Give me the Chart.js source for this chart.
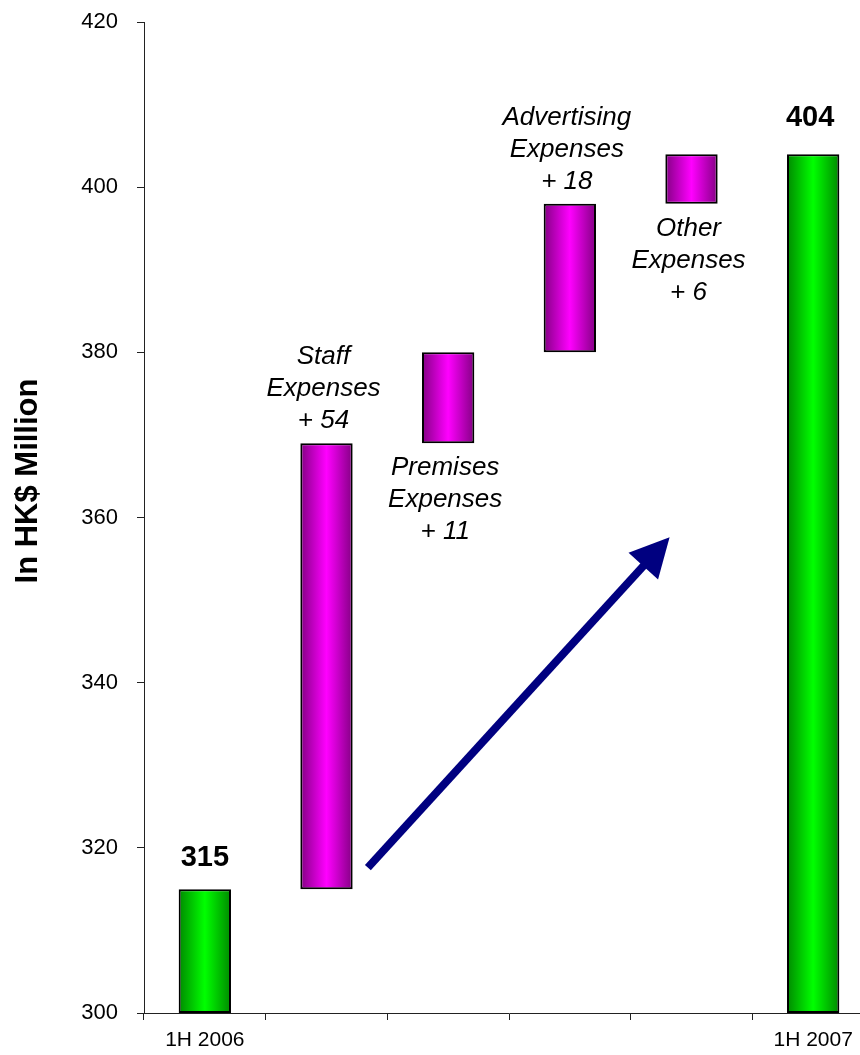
<!DOCTYPE html>
<html>
<head>
<meta charset="utf-8">
<script src="https://cdn.jsdelivr.net/npm/chart.js@4.4.1/dist/chart.umd.min.js"></script>
<style>
  html, body { margin: 0; padding: 0; background: #fff; overflow: hidden; width: 860px; height: 1055px; }
  #wrap { position: absolute; left: 0; top: 0; width: 875px; height: 1055px; }
</style>
</head>
<body>
<div id="wrap"><canvas id="c" width="875" height="1055"></canvas></div>
<script>
// Operating expenses bridge, 1H 2006 -> 1H 2007 (HK$ million)
const categories = ['1H 2006', '', '', '', '', '1H 2007'];
const openingTotal = 315;
const closingTotal = 404;
const expenseNames = [['Staff', 'Expenses'], ['Premises', 'Expenses'], ['Advertising', 'Expenses'], ['Other', 'Expenses']];
const expenseIncrements = [54, 11, 18, 6];
const expenseLabelSides = ['above', 'below', 'above', 'below'];
const yMin = 300, yMax = 420, yStep = 20;
const yTitle = 'In HK$ Million';
// growth arrow, in [category index, HK$ million]
const arrowFrom = [1.34, 317.6];
const arrowTo = [3.82, 357.6];

const FONT = '"Liberation Sans", Arial, Helvetica, sans-serif';
const BAR_PCT = 0.43;

// floating ranges: totals sit on the axis floor, expenses stack on a running sum
const ranges = [];
ranges.push([yMin, openingTotal]);
let running = openingTotal;
expenseIncrements.forEach(v => { ranges.push([running, running + v]); running += v; });
ranges.push([yMin, closingTotal]);

function barFill(ctx) {
  const isTotal = ctx.dataIndex === 0 || ctx.dataIndex === categories.length - 1;
  const dark = isTotal ? '#008a00' : '#840084';
  const light = isTotal ? '#00ff00' : '#ff00ff';
  const chart = ctx.chart;
  const xs = chart.scales && chart.scales.x;
  if (!xs || !chart.chartArea || !isFinite(xs.width) || xs.width <= 0) return light;
  const cx = xs.getPixelForValue(ctx.dataIndex);
  const half = xs.width / categories.length * BAR_PCT / 2;
  const g = chart.ctx.createLinearGradient(cx - half, 0, cx + half, 0);
  g.addColorStop(0, dark);
  g.addColorStop(0.5, light);
  g.addColorStop(1, dark);
  return g;
}

const annotations = {
  id: 'annotations',
  afterDatasetsDraw(chart) {
    const { ctx, scales: { x, y } } = chart;
    const bars = chart.getDatasetMeta(0).data;
    ctx.save();
    ctx.fillStyle = '#000';
    ctx.textAlign = 'center';
    ctx.textBaseline = 'middle';

    // totals
    ctx.font = 'bold 29px ' + FONT;
    ctx.fillText(String(openingTotal), bars[0].x, y.getPixelForValue(openingTotal) - 31);
    const last = bars[bars.length - 1];
    ctx.fillText(String(closingTotal), last.x - 3, y.getPixelForValue(closingTotal) - 36);

    // expense captions
    ctx.font = 'italic 26px ' + FONT;
    const lh = 32;
    expenseIncrements.forEach((v, i) => {
      const el = bars[i + 1];
      const lines = expenseNames[i].concat(['+ ' + v]);
      const top = Math.min(el.y, el.base), bottom = Math.max(el.y, el.base);
      const cx = el.x - 3;
      if (expenseLabelSides[i] === 'above') {
        const lastY = top - 22;
        lines.forEach((t, k) => ctx.fillText(t, cx, lastY - (lines.length - 1 - k) * lh));
      } else {
        const firstY = bottom + 25;
        lines.forEach((t, k) => ctx.fillText(t, cx, firstY + k * lh));
      }
    });

    // growth arrow
    const x0 = x.getPixelForValue(arrowFrom[0]), y0 = y.getPixelForValue(arrowFrom[1]);
    const x1 = x.getPixelForValue(arrowTo[0]), y1 = y.getPixelForValue(arrowTo[1]);
    const ang = Math.atan2(y1 - y0, x1 - x0);
    const headLen = 39, headHalf = 20;
    const bx = x1 - headLen * Math.cos(ang), by = y1 - headLen * Math.sin(ang);
    ctx.strokeStyle = '#000080';
    ctx.fillStyle = '#000080';
    ctx.lineWidth = 8;
    ctx.lineCap = 'butt';
    ctx.beginPath();
    ctx.moveTo(x0, y0);
    ctx.lineTo(bx + 4 * Math.cos(ang), by + 4 * Math.sin(ang));
    ctx.stroke();
    ctx.beginPath();
    ctx.moveTo(x1, y1);
    ctx.lineTo(bx + headHalf * Math.sin(ang), by - headHalf * Math.cos(ang));
    ctx.lineTo(bx - headHalf * Math.sin(ang), by + headHalf * Math.cos(ang));
    ctx.closePath();
    ctx.fill();

    // y axis title
    ctx.fillStyle = '#000';
    ctx.font = 'bold 31px ' + FONT;
    ctx.translate(28, 481);
    ctx.rotate(-Math.PI / 2);
    ctx.fillText(yTitle, 0, 0);
    ctx.restore();
  }
};

new Chart(document.getElementById('c'), {
  type: 'bar',
  data: {
    labels: categories,
    datasets: [{
      data: ranges,
      backgroundColor: barFill,
      borderColor: '#000',
      borderWidth: 2,
      borderSkipped: false,
      categoryPercentage: 1,
      barPercentage: BAR_PCT
    }]
  },
  options: {
    responsive: false,
    animation: false,
    devicePixelRatio: 1,
    layout: { padding: { top: 22, right: 1, bottom: 0, left: 0 } },
    plugins: { legend: { display: false }, tooltip: { enabled: false } },
    scales: {
      x: {
        grid: { display: true, drawOnChartArea: false, drawTicks: true, tickLength: 7, color: '#222', offset: true },
        border: { display: true, color: '#222', width: 1 },
        ticks: { color: '#000', font: { family: FONT, size: 21 }, padding: 8, maxRotation: 0, autoSkip: false },
        afterFit(s) { s.height = 42; s.paddingLeft = 0; s.paddingRight = 0; }
      },
      y: {
        min: yMin, max: yMax,
        grid: { display: true, drawOnChartArea: false, drawTicks: true, tickLength: 7, color: '#222' },
        border: { display: true, color: '#222', width: 1 },
        ticks: { stepSize: yStep, color: '#000', font: { family: FONT, size: 22 }, padding: 19 },
        afterFit(s) { s.width = 144; s.paddingTop = 0; s.paddingBottom = 0; }
      }
    }
  },
  plugins: [annotations]
});
</script>
</body>
</html>
